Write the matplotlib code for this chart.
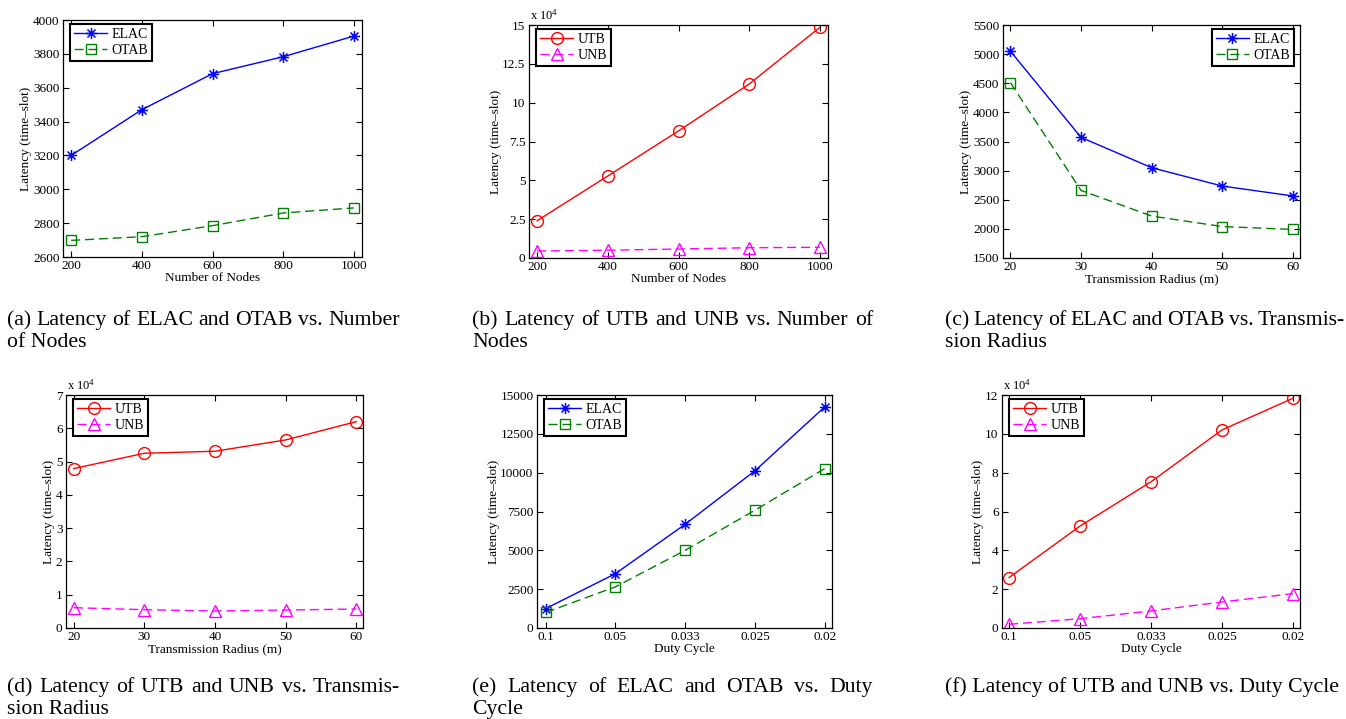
import matplotlib
matplotlib.use('Agg')
import matplotlib.pyplot as plt
from matplotlib.path import Path
from matplotlib.ticker import FuncFormatter

plt.rcParams['font.family'] = ['Liberation Serif', 'DejaVu Serif']
plt.rcParams['mathtext.fontset'] = 'custom'
plt.rcParams['mathtext.rm'] = 'Liberation Serif'
plt.rcParams['mathtext.it'] = 'Liberation Serif:italic'

# ---------------- data ----------------
nodes = [200, 400, 600, 800, 1000]
radius = [20, 30, 40, 50, 60]
duty_labels = ['0.1', '0.05', '0.033', '0.025', '0.02']

elac_nodes = [3200, 3470, 3683, 3783, 3905]
otab_nodes = [2698, 2720, 2785, 2860, 2890]
utb_nodes = [24000, 52800, 81800, 112000, 148500]
unb_nodes = [4500, 5000, 5800, 6600, 6900]

elac_radius = [5050, 3570, 3050, 2735, 2565]
otab_radius = [4510, 2660, 2220, 2040, 1990]
utb_radius = [47900, 52500, 53100, 56500, 62000]
unb_radius = [6100, 5500, 5100, 5400, 5700]

elac_duty = [1250, 3500, 6680, 10120, 14230]
otab_duty = [1000, 2650, 5000, 7580, 10260]
utb_duty = [26000, 52500, 75300, 102000, 118300]
unb_duty = [1900, 4800, 8800, 13400, 17700]

captions = [
    ["(a) Latency of ELAC and OTAB vs. Number", "of Nodes"],
    ["(b) Latency of UTB and UNB vs. Number of", "Nodes"],
    ["(c) Latency of ELAC and OTAB vs. Transmis-", "sion Radius"],
    ["(d) Latency of UTB and UNB vs. Transmis-", "sion Radius"],
    ["(e) Latency of ELAC and OTAB vs. Duty", "Cycle"],
    ["(f) Latency of UTB and UNB vs. Duty Cycle"],
]

# ---------------- figure ----------------
W, H = 1346, 719
fig = plt.figure(figsize=(W / 100, H / 100), dpi=100)

def add_axes_px(l, r, t, b):
    return fig.add_axes([l / W, 1 - b / H, (r - l) / W, (b - t) / H])

# asterisk marker (MATLAB-like '*')
d = 0.72
ast = Path([(-1, 0), (1, 0), (0, -1), (0, 1), (-d, -d), (d, d), (-d, d), (d, -d)],
           [Path.MOVETO, Path.LINETO] * 4)

BLUE = '#0000FF'
GREEN = '#008000'
RED = '#FF0000'
MAG = '#FF00FF'
DASH = (6.5, 3.5)
LW = 1.0
TICK_FS = 9.5
LAB_FS = 9.5

def style(ax):
    ax.tick_params(direction='in', top=True, right=True, length=4, width=0.8,
                   labelsize=TICK_FS, pad=2.5)
    ax.tick_params(axis='x', pad=2)
    for s in ax.spines.values():
        s.set_linewidth(0.9)
        s.set_color('black')
    ax.set_ylabel('Latency (time–slot)', fontsize=LAB_FS, labelpad=0.5)

def legend(ax, loc, anchor):
    lg = ax.legend(loc=loc, bbox_to_anchor=anchor, borderaxespad=0, fontsize=10,
                   handlelength=2.4, handletextpad=0.3, borderpad=0.3,
                   labelspacing=0.2, fancybox=False, framealpha=1,
                   edgecolor='black')
    lg.get_frame().set_linewidth(1.5)

def plot_elac_otab(ax, x, e, o):
    ax.plot(x, e, color=BLUE, lw=LW, marker=ast, ms=8, mec=BLUE, mew=1.1,
            mfc='none', label='ELAC')
    ax.plot(x, o, color=GREEN, lw=LW, ls='--', dashes=DASH, marker='s', ms=7,
            mec=GREEN, mew=1.0, mfc='none', label='OTAB')

def plot_utb_unb(ax, x, u, n):
    ax.plot(x, u, color=RED, lw=LW, marker='o', ms=8.5, mec=RED, mew=1.0,
            mfc='none', label='UTB')
    ax.plot(x, n, color=MAG, lw=LW, ls='--', dashes=DASH, marker='^', ms=8.5,
            mec=MAG, mew=1.0, mfc='none', label='UNB')

def x1e4(ax):
    ax.yaxis.set_major_formatter(FuncFormatter(lambda v, p: ('%g' % (v / 1e4))))
    ax.text(0.005, 1.012, r'x 10$^{4}$', transform=ax.transAxes, fontsize=9,
            ha='left', va='bottom')

# (a)
ax = add_axes_px(63, 362, 20, 257)
plot_elac_otab(ax, nodes, elac_nodes, otab_nodes)
ax.set_xlim(177, 1023)
ax.set_ylim(2600, 4000)
ax.set_xticks(nodes)
ax.set_yticks(range(2600, 4001, 200))
ax.set_xlabel('Number of Nodes', fontsize=LAB_FS, labelpad=0.5)
style(ax)
legend(ax, 'upper left', (0.023, 0.983))

# (b)
ax = add_axes_px(529, 828, 25, 258)
plot_utb_unb(ax, nodes, utb_nodes, unb_nodes)
ax.set_xlim(177, 1023)
ax.set_ylim(0, 150000)
ax.set_xticks(nodes)
ax.set_yticks([0, 25000, 50000, 75000, 100000, 125000, 150000])
x1e4(ax)
ax.set_xlabel('Number of Nodes', fontsize=LAB_FS, labelpad=0.5)
style(ax)
legend(ax, 'upper left', (0.023, 0.983))

# (c)
ax = add_axes_px(1003, 1300, 25, 258)
plot_elac_otab(ax, radius, elac_radius, otab_radius)
ax.set_xlim(18.95, 61.0)
ax.set_ylim(1500, 5500)
ax.set_xticks(radius)
ax.set_yticks(range(1500, 5501, 500))
ax.set_xlabel('Transmission Radius (m)', fontsize=LAB_FS, labelpad=0.5)
style(ax)
legend(ax, 'upper right', (0.98, 0.983))

# (d)
ax = add_axes_px(66, 363, 395, 628)
plot_utb_unb(ax, radius, utb_radius, unb_radius)
ax.set_xlim(18.9, 60.95)
ax.set_ylim(0, 70000)
ax.set_xticks(radius)
ax.set_yticks(range(0, 70001, 10000))
x1e4(ax)
ax.set_xlabel('Transmission Radius (m)', fontsize=LAB_FS, labelpad=0.5)
style(ax)
legend(ax, 'upper left', (0.023, 0.983))

# (e)
ax = add_axes_px(537, 832, 395, 628)
pos = list(range(1, len(duty_labels) + 1))
plot_elac_otab(ax, pos, elac_duty, otab_duty)
ax.set_xlim(0.875, 5.105)
ax.set_ylim(0, 15000)
ax.set_xticks(pos)
ax.set_xticklabels(duty_labels)
ax.set_yticks(range(0, 15001, 2500))
ax.set_xlabel('Duty Cycle', fontsize=LAB_FS, labelpad=0.5)
style(ax)
legend(ax, 'upper left', (0.023, 0.983))

# (f)
ax = add_axes_px(1002, 1300, 395, 628)
plot_utb_unb(ax, pos, utb_duty, unb_duty)
ax.set_xlim(0.9, 5.1)
ax.set_ylim(0, 120000)
ax.set_xticks(pos)
ax.set_xticklabels(duty_labels)
ax.set_yticks(range(0, 120001, 20000))
x1e4(ax)
ax.set_xlabel('Duty Cycle', fontsize=LAB_FS, labelpad=0.5)
style(ax)
legend(ax, 'upper left', (0.023, 0.983))

# ---------------- captions (justified first lines) ----------------
CAP_FS = 15.7
renderer = fig.canvas.get_renderer()

def put_line(text, x0, x1, ybase, justify):
    if not justify:
        fig.text(x0 / W, 1 - ybase / H, text, fontsize=CAP_FS, ha='left',
                 va='baseline')
        return
    words = text.split(' ')
    objs = [fig.text(0, 1 - ybase / H, w, fontsize=CAP_FS, ha='left',
                     va='baseline') for w in words]
    widths = [o.get_window_extent(renderer).width for o in objs]
    gap = (x1 - x0 - sum(widths)) / (len(words) - 1)
    x = x0
    for o, wd in zip(objs, widths):
        o.set_x(x / W)
        x += wd + gap

cols = [(7, 400), (472, 873), (945, 1345)]
rows = [(325, 347), (692, 714)]
for i, cap in enumerate(captions):
    x0, x1 = cols[i % 3]
    y1, y2 = rows[i // 3]
    if len(cap) == 2:
        put_line(cap[0], x0, x1, y1, True)
        put_line(cap[1], x0, x1, y2, False)
    else:
        put_line(cap[0], x0, x1, y1, False)

fig.savefig('out.png', dpi=100)
